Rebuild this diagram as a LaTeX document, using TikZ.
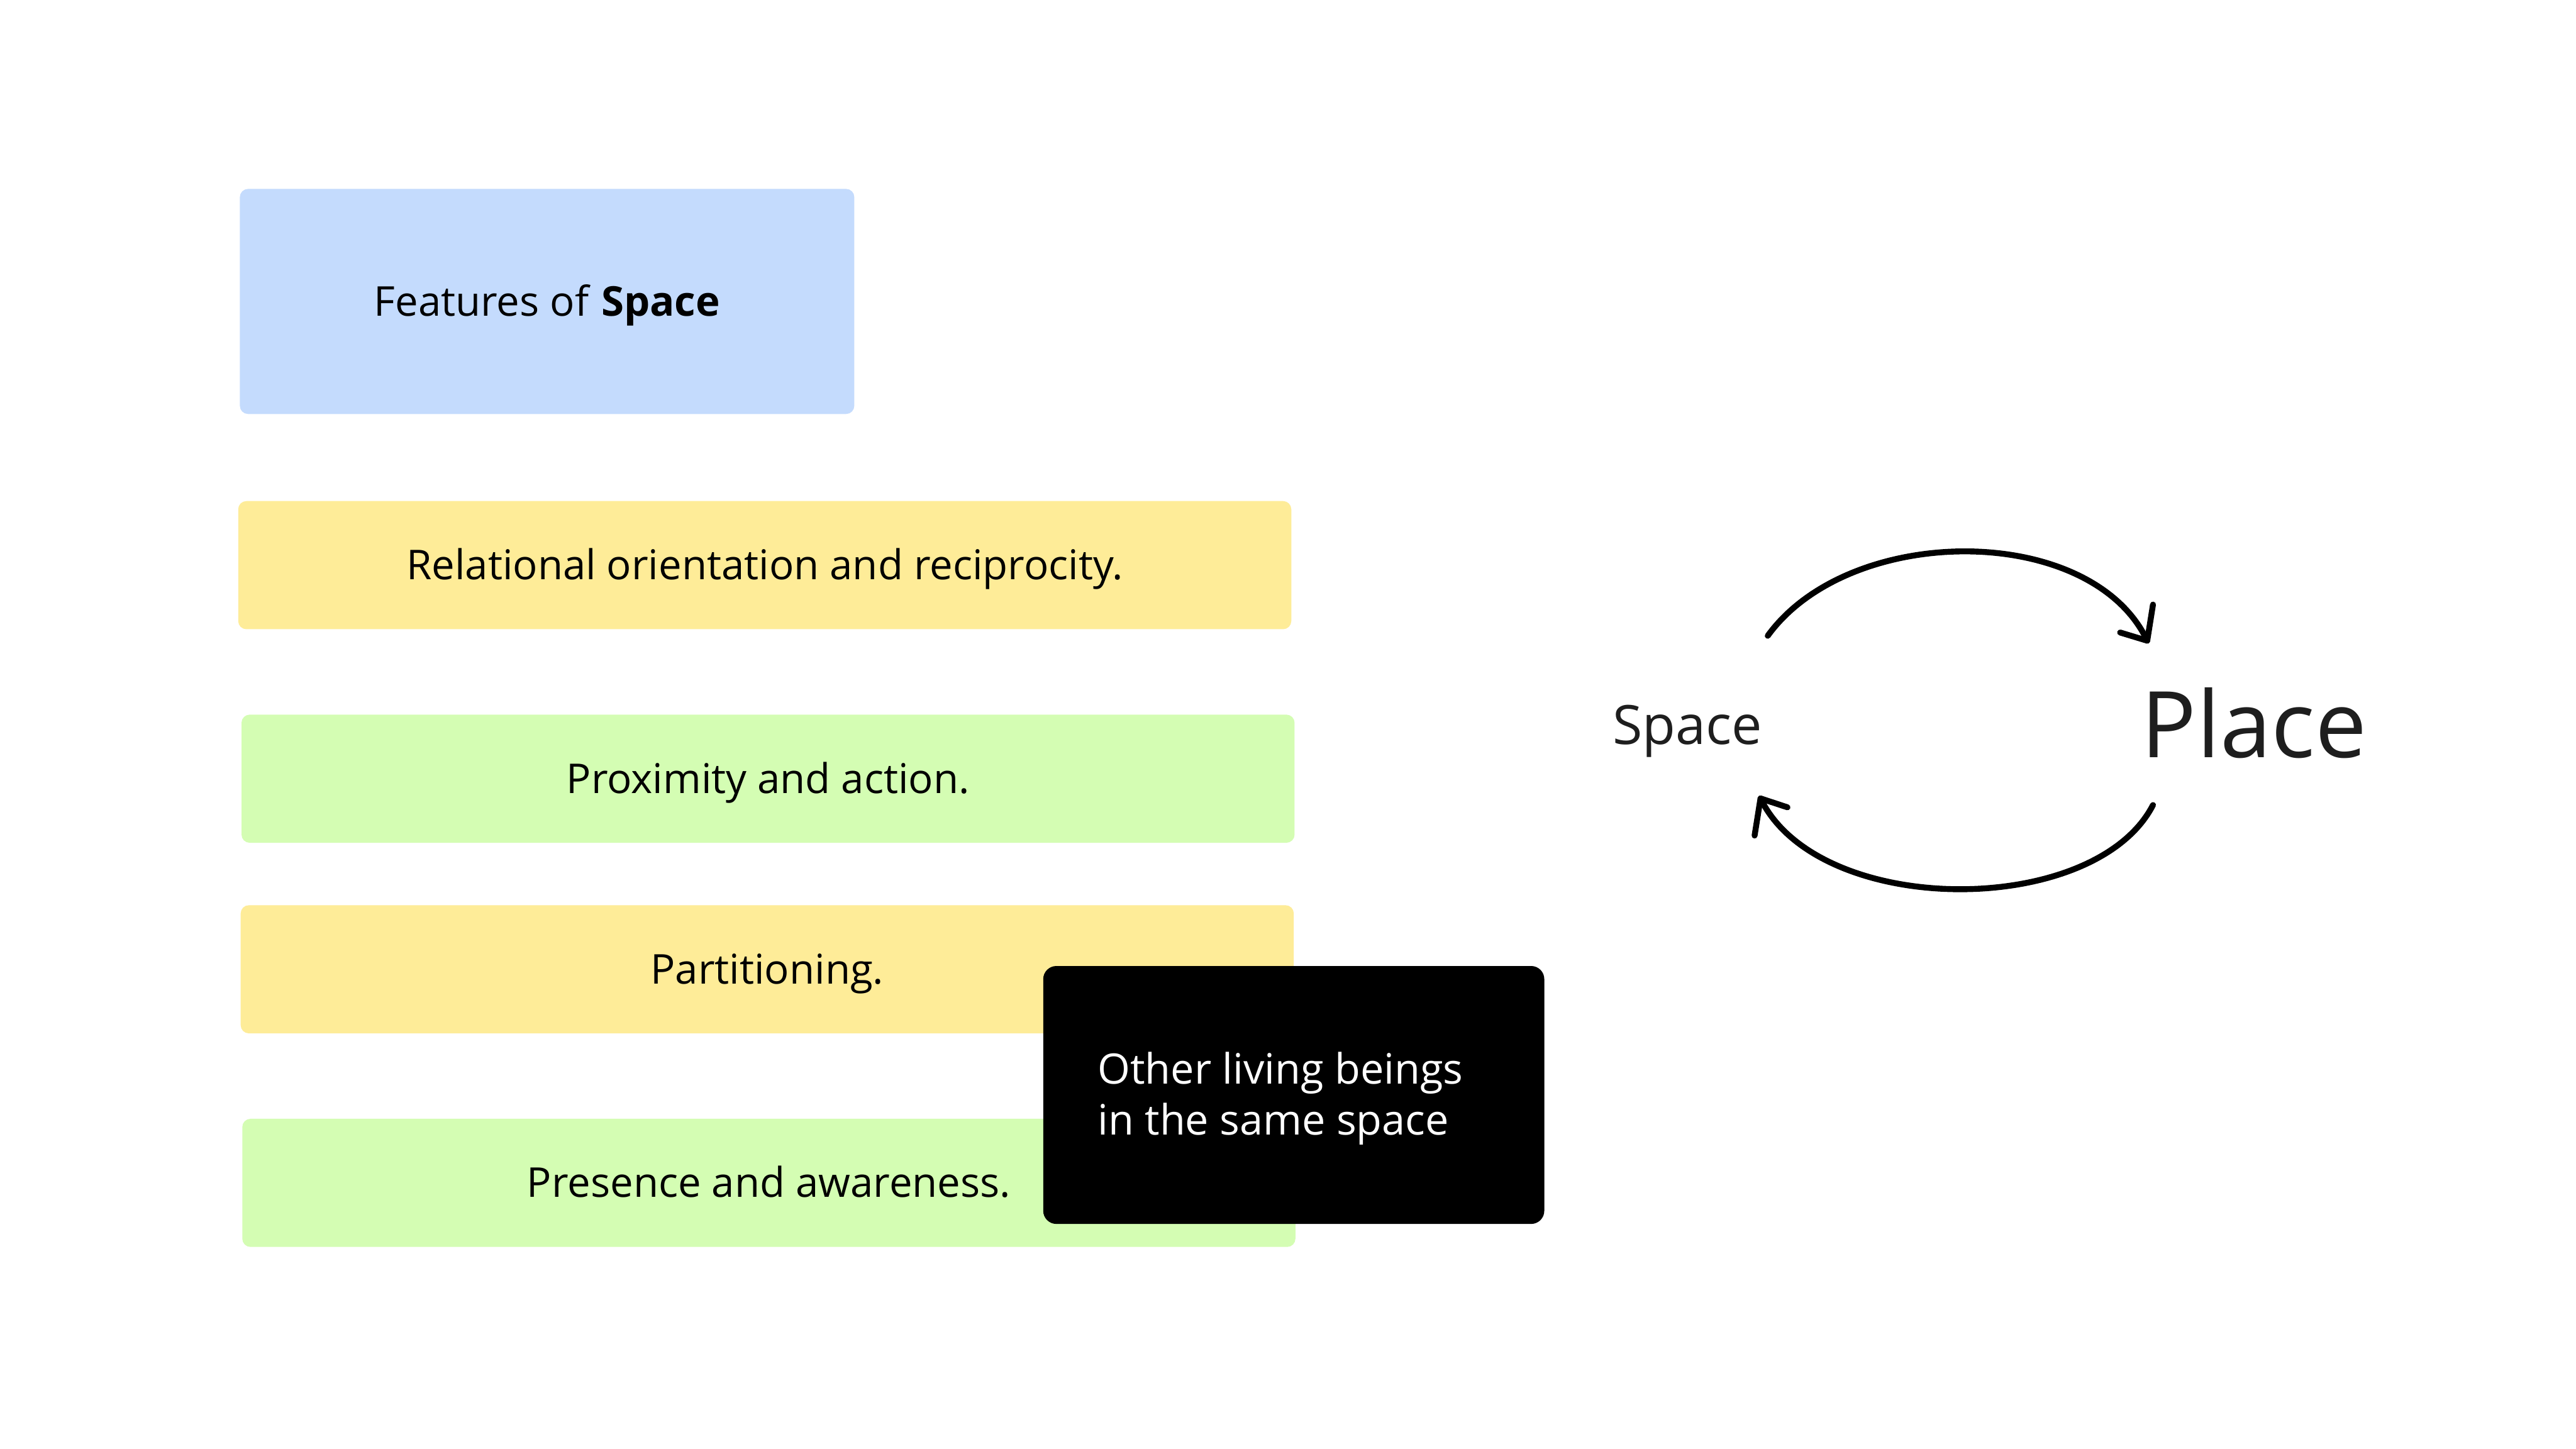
\documentclass[tikz,border=0pt]{standalone}
\usepackage{fontspec}
\setmainfont{Open Sans}
\definecolor{blueF}{HTML}{C4DBFD}
\definecolor{yelF}{HTML}{FEEC98}
\definecolor{grnF}{HTML}{D4FDB3}
\definecolor{dk}{HTML}{1E1E1E}
\begin{document}
\begin{tikzpicture}[x=1pt,y=-1pt,
  box/.style={rounded corners=5pt, inner sep=0pt, text=black,
    font=\fontsize{25}{29}\selectfont, text height=22pt, text depth=4.4pt},
  bar/.style={box, minimum width=641pt, minimum height=78pt},
  darkbox/.style={rounded corners=8pt, fill=black, inner sep=0pt,
    minimum width=305pt, minimum height=157pt},
  darktext/.style={anchor=base west, inner sep=0pt, text=white, align=left,
    font=\fontsize{25.5}{31.1}\selectfont},
  arc/.style={line width=3.6pt, line cap=round, line join=round, draw=black}]
\useasboundingbox (0,0) rectangle (1568,882);
\fill[white] (0,0) rectangle (1568,882);
\node[box, fill=blueF, minimum width=374pt, minimum height=137pt] (feat) at (333,183.5) {Features of \textbf{Space}};
\node[bar, fill=yelF] (rel) at (465.5,344) {Relational orientation and reciprocity.};
\node[bar, fill=grnF] (prox) at (467.5,474) {Proximity and action.};
\node[bar, fill=yelF] (part) at (467,590) {Partitioning.};
\node[bar, fill=grnF] (pres) at (468,720) {Presence and awareness.};
\node[darkbox] (other) at (787.5,666.5) {};
\node[darktext] (othertxt) at (668,690.9) {Other living beings\\in the same space};
\node[anchor=base, inner sep=0pt, text=dk, font=\fontsize{33}{38}\selectfont] (space) at (1027,453) {Space};
\node[anchor=base, inner sep=0pt, text=dk, font=\fontsize{56}{64}\selectfont] (place) at (1372,461) {Place};
\coordinate (a1s) at (1076,387);
\coordinate (a1e) at (1307,390);
\coordinate (a2s) at (1310.5,490);
\coordinate (a2e) at (1071.6,486);
\draw[arc] (a1s) .. controls (1126,318) and (1273,318) .. (a1e);
\draw[arc] (1290.5,385) -- (a1e) -- (1310.5,368);
\draw[arc] (a2s) .. controls (1275,559) and (1107,559) .. (a2e);
\draw[arc] (1068,508.6) -- (a2e) -- (1088,491.4);
\end{tikzpicture}
\end{document}
